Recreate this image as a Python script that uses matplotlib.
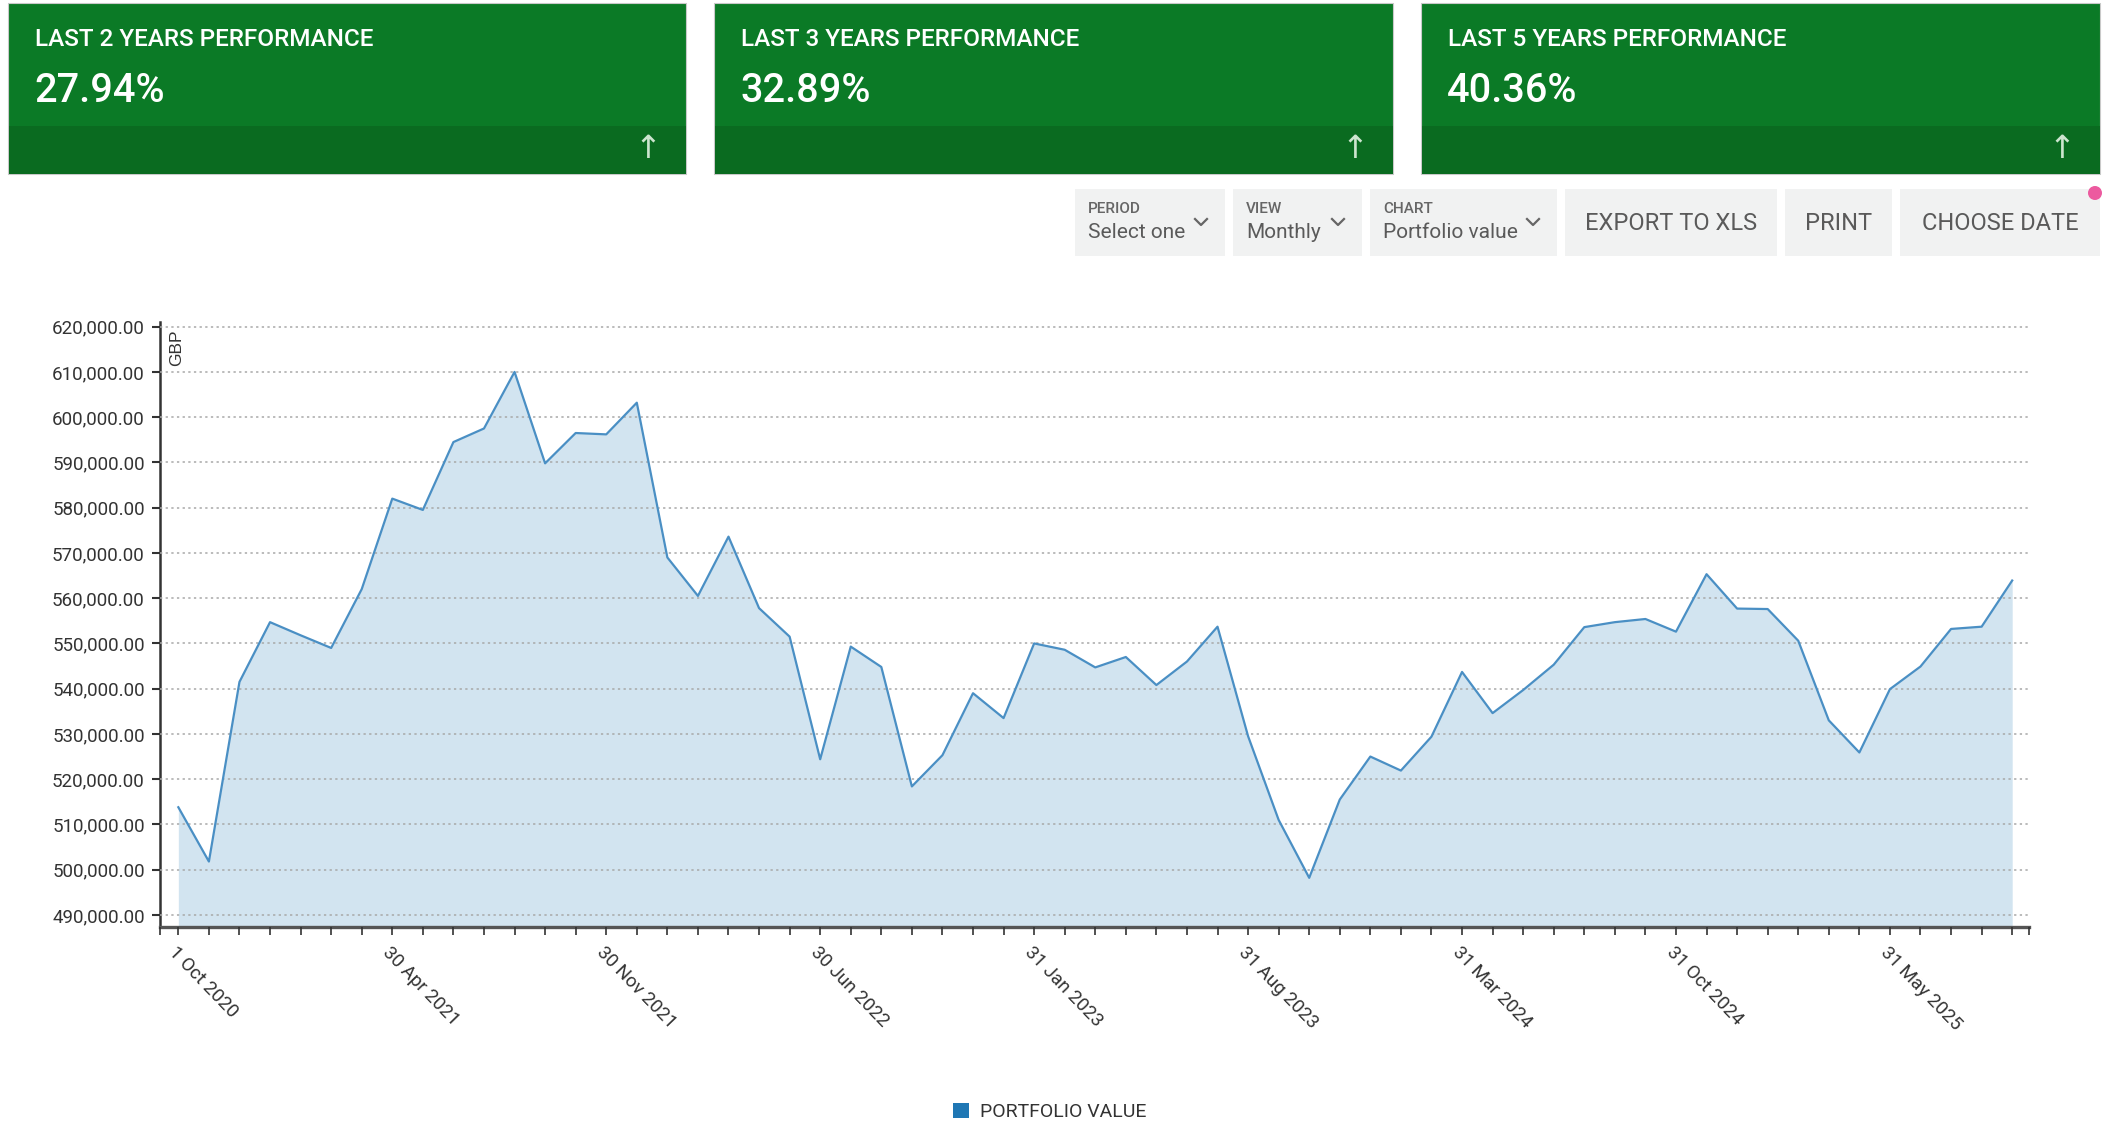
import matplotlib
matplotlib.use("Agg")
import matplotlib.pyplot as plt
from matplotlib.patches import Rectangle, Circle, Patch
from matplotlib.lines import Line2D
from matplotlib.ticker import FuncFormatter
import numpy as np

W, H = 2104, 1124

# ---------------- data ----------------
portfolio_value = [
    513800, 501800, 541500, 554700, 551800, 549000, 562000, 582000, 579500, 594500,
    597500, 610000, 589800, 596500, 596200, 603200, 569000, 560500, 573600, 557800,
    551500, 524400, 549300, 544800, 518400, 525300, 539000, 533500, 550000, 548600,
    544700, 547000, 540800, 546000, 553700, 529500, 511000, 498200, 515500, 525000,
    521900, 529400, 543700, 534600, 539700, 545300, 553600, 554700, 555400, 552600,
    565300, 557700, 557600, 550600, 533000, 525900, 539900, 544900, 553200, 553700,
    563900,
]
label_positions = [0, 7, 14, 21, 28, 35, 42, 49, 56]
label_texts = ["1 Oct 2020", "30 Apr 2021", "30 Nov 2021", "30 Jun 2022", "31 Jan 2023",
               "31 Aug 2023", "31 Mar 2024", "31 Oct 2024", "31 May 2025"]
y_ticks = list(range(490000, 620001, 10000))

card_titles = ["LAST 2 YEARS PERFORMANCE", "LAST 3 YEARS PERFORMANCE", "LAST 5 YEARS PERFORMANCE"]
card_values = ["27.94%", "32.89%", "40.36%"]

dropdown_labels = ["PERIOD", "VIEW", "CHART"]
dropdown_values = ["Select one", "Monthly", "Portfolio value"]
button_labels = ["EXPORT TO XLS", "PRINT", "CHOOSE DATE"]
legend_label = "PORTFOLIO VALUE"
unit_label = "GBP"

# ---------------- style ----------------
GREEN = "#0b7a26"
GREEN_DARK = "#0a6b20"
LINE = "#4a8fc4"
FILL = "#d2e4f0"
SERIES = "#1f77b4"
BTN = "#f1f2f2"
TXT = "#333333"
BTN_TXT = "#5a5a5a"
FONT = "Roboto"

fig = plt.figure(figsize=(W / 100, H / 100), dpi=100)
fig.patch.set_facecolor("white")

ov = fig.add_axes([0, 0, 1, 1], zorder=0)
ov.set_xlim(0, W)
ov.set_ylim(H, 0)
ov.axis("off")

# ---- cards ----
card_x = [(8, 686), (714, 1393), (1421, 2100)]
for (x0, x1), t, v in zip(card_x, card_titles, card_values):
    ov.add_patch(Rectangle((x0, 3), x1 - x0, 171, facecolor=GREEN, edgecolor="#c9c9c9", lw=0.8))
    ov.add_patch(Rectangle((x0 + 0.5, 126), x1 - x0 - 1, 47.5, facecolor=GREEN_DARK, edgecolor="none"))
    ov.text(x0 + 27, 40, t, color="white", fontsize=17.5, family=FONT, fontweight="medium",
            va="center", ha="left")
    ov.text(x0 + 26, 91, v, color="white", fontsize=28.5, family=FONT, fontweight="medium",
            va="center", ha="left")
    ov.text(x1 - 38, 149, "\u2191", color="#cde5cf", fontsize=23, family="DejaVu Sans",
            va="center", ha="center")

# ---- controls ----
drop_x = [(1075, 1225), (1233, 1362), (1370, 1557)]
for (x0, x1), lab, val in zip(drop_x, dropdown_labels, dropdown_values):
    ov.add_patch(Rectangle((x0, 189), x1 - x0, 67, facecolor=BTN, edgecolor="none"))
    ov.text(x0 + 13, 209, lab, color="#666666", fontsize=11, family=FONT, fontweight="medium",
            va="center", ha="left")
    ov.text(x0 + 13, 233, val, color=BTN_TXT, fontsize=15, family=FONT, va="center", ha="left")
    cx = x1 - 24
    ov.add_line(Line2D([cx - 6, cx, cx + 6], [219, 225, 219], color="#666666", lw=1.6))

btn_x = [(1565, 1777), (1785, 1892), (1900, 2100)]
for (x0, x1), lab in zip(btn_x, button_labels):
    ov.add_patch(Rectangle((x0, 189), x1 - x0, 67, facecolor=BTN, edgecolor="none"))
    ov.text((x0 + x1) / 2, 224, lab, color=BTN_TXT, fontsize=17, family=FONT, va="center", ha="center")

ov.add_patch(Circle((2095, 193), 7, facecolor="#ec5a9f", edgecolor="none"))

# ---- chart ----
ax_left, ax_right, ax_top, ax_bottom = 160, 2029, 321.7, 926.7
ax = fig.add_axes([ax_left / W, 1 - ax_bottom / H, (ax_right - ax_left) / W, (ax_bottom - ax_top) / H],
                  zorder=1)
ax.set_facecolor("none")

x = np.arange(len(portfolio_value))
y_low = 487400
ax.fill_between(x, portfolio_value, y_low, color=FILL, lw=0, zorder=1)
ax.plot(x, portfolio_value, color=LINE, lw=1.6, zorder=3)

ax.set_xlim(-0.6, len(portfolio_value) - 1 + 0.55)
ax.set_ylim(y_low, 621100)

ax.set_yticks(y_ticks)
ax.yaxis.set_major_formatter(FuncFormatter(lambda v, p: f"{v:,.2f}"))
ax.yaxis.grid(True, linestyle=(0, (1.5, 2.2)), color="#a8a8a8", lw=1.1, zorder=2)
ax.set_axisbelow(False)

labels = ["" for _ in x]
for p, t in zip(label_positions, label_texts):
    labels[p] = t
ax.set_xticks(x)
ax.set_xticklabels(labels)
ax.set_xticks([-0.6, len(portfolio_value) - 1 + 0.55], minor=True)

for lab in ax.get_xticklabels():
    lab.set_rotation(-46)
    lab.set_ha("left")
    lab.set_va("top")
    lab.set_rotation_mode("anchor")
    lab.set_fontfamily(FONT)
    lab.set_fontsize(13.5)
    lab.set_color(TXT)
for lab in ax.get_yticklabels():
    lab.set_fontfamily(FONT)
    lab.set_fontsize(13.5)
    lab.set_color(TXT)

ax.tick_params(axis="x", which="both", direction="out", length=6, width=1.2, color="#333333", pad=6)
ax.tick_params(axis="y", direction="out", length=6, width=1.5, color="#333333", pad=5)

for s in ["top", "right"]:
    ax.spines[s].set_visible(False)
ax.spines["left"].set_color("#333333")
ax.spines["left"].set_linewidth(1.8)
ax.spines["bottom"].set_color("#555555")
ax.spines["bottom"].set_linewidth(2.4)

ov.text(177, 348, unit_label, rotation=90, fontsize=12.5, family="Liberation Sans", color=TXT,
        va="center", ha="center")

# ---- legend ----
leg = fig.legend(handles=[Patch(facecolor=SERIES, edgecolor="none", label=legend_label)],
                 loc="center", bbox_to_anchor=(1050 / W, 1 - 1112 / H), frameon=False,
                 handlelength=0.8, handleheight=0.8, handletextpad=0.6,
                 prop={"family": FONT, "size": 14})
for t in leg.get_texts():
    t.set_color(TXT)

fig.savefig("out.png", dpi=100, facecolor="white")
